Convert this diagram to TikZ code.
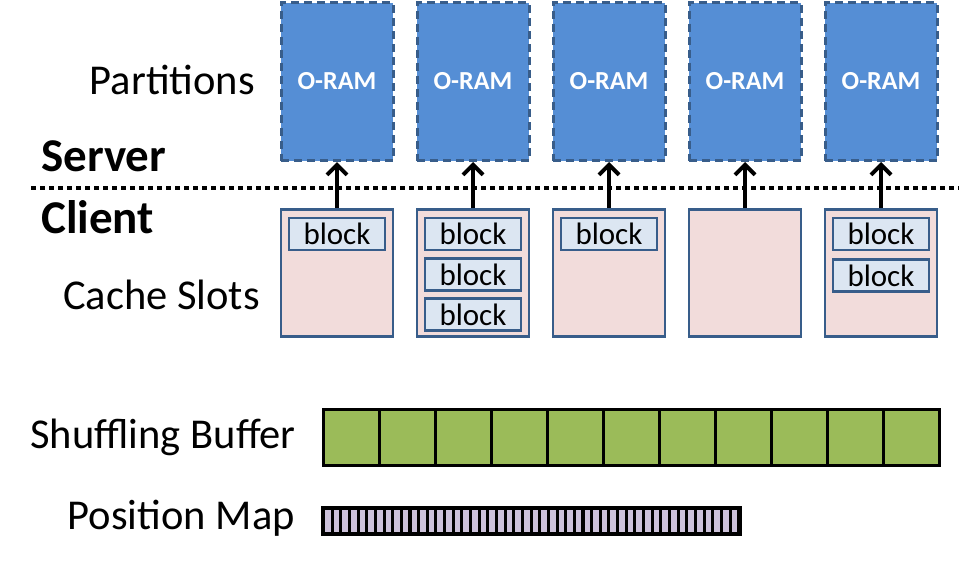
\documentclass[tikz,border=0pt]{standalone}
\usepackage{fontspec}
\setmainfont{Carlito}
\usetikzlibrary{arrows.meta}
\definecolor{oramfill}{HTML}{558ED5}
\definecolor{darkblue}{HTML}{385D8A}
\definecolor{slotfill}{HTML}{F2DCDB}
\definecolor{blockfill}{HTML}{DCE6F2}
\definecolor{buffill}{HTML}{9BBB59}
\definecolor{mapfill}{HTML}{CCC1DA}
\tikzset{
  oram/.style={draw=darkblue, fill=oramfill, line width=3pt, dash pattern=on 8pt off 5pt,
    minimum width=112pt, minimum height=158pt, inner sep=0pt,
    font=\fontsize{26}{30}\selectfont\bfseries, text=white},
  slot/.style={draw=darkblue, fill=slotfill, line width=2.8pt,
    minimum width=112pt, minimum height=127pt, inner sep=0pt},
  blk/.style={draw=darkblue, fill=blockfill, line width=2.8pt,
    minimum width=96pt, minimum height=32pt, inner sep=0pt,
    font=\fontsize{31}{34}\selectfont},
  cell/.style={draw=black, fill=buffill, line width=3pt,
    minimum width=56pt, minimum height=56pt, inner sep=0pt},
  up/.style={line width=4pt, -{Straight Barb[length=10pt,width=20pt,line width=4pt]}},
  lbl/.style={font=\fontsize{42.5}{48}\selectfont, inner sep=0pt},
  blbl/.style={font=\fontsize{47}{52}\selectfont\bfseries, inner sep=0pt},
}
\begin{document}
\begin{tikzpicture}[x=1pt,y=-1pt]
\useasboundingbox (0,0) rectangle (959,568);
% labels
\node[lbl, anchor=base east] (partitions) at (255,94) {Partitions};
\node[blbl, anchor=base west] (server) at (41,171) {Server};
\node[blbl, anchor=base west] (client) at (41,233) {Client};
\node[lbl, anchor=base east] (cacheslots) at (260,309) {Cache Slots};
\node[lbl, anchor=base east] (shuffling) at (296,448) {Shuffling Buffer};
\node[lbl, anchor=base east] (posmap) at (295,529) {Position Map};
% dotted divider
\coordinate (divL) at (31,188);
\coordinate (divR) at (959,188);
\draw[line width=4pt, dash pattern=on 5pt off 4pt] (divL) -- (divR);
% partitions and slots
\foreach \i/\x in {1/337,2/473,3/609,4/745,5/881}{
  \node[oram] (oram\i) at (\x,81.5) {O-RAM};
  \node[slot] (slot\i) at (\x,273) {};
  \draw[up] (slot\i.north) -- (oram\i.south);
}
% blocks
\node[blk] (b11) at (337,234) {block};
\node[blk] (b21) at (473,234) {block};
\node[blk] (b22) at (473,274.5) {block};
\node[blk] (b23) at (473,314.5) {block};
\node[blk] (b31) at (609,234) {block};
\node[blk] (b51) at (881,234) {block};
\node[blk] (b52) at (881,275.5) {block};
% shuffling buffer
\foreach \i in {0,...,10}{
  \node[cell] (cell\i) at ({351+56*\i},437) {};
}
% position map
\node[draw=black, fill=black, line width=0pt, minimum width=420pt, minimum height=29pt,
  inner sep=0pt] (map) at (531,520.5) {};
\foreach \i in {0,...,47}{
  \fill[mapfill] ({325+8.65*\i},509.5) rectangle ++(5.6,22);
}
\end{tikzpicture}
\end{document}
